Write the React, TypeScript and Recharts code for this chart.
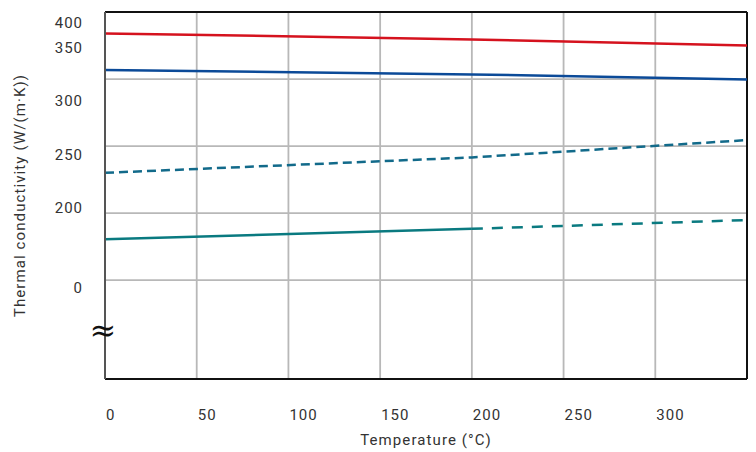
import React from 'react';
import {
  LineChart,
  Line,
  XAxis,
  YAxis,
  CartesianGrid,
  ReferenceLine,
  ReferenceDot,
  Label,
} from 'recharts';

// Temperatures (°C) at which the curves were read
const temperatureC = [0, 200, 350];
// Thermal conductivity readings (plot units of the broken axis)
const redSeries = [363.0, 357.4, 351.8];
const blueSeries = [328.7, 324.7, 320.0];
const dashedBlueSeries = [232.7, 247.1, 263.3];
const tealSolidSeries: (number | null)[] = [170.7, 180.4, null];
const tealDashedSeries: (number | null)[] = [null, 180.4, 188.5];

const xTicks = [0, 50, 100, 150, 200, 250, 300];
const xDomain = [0, 350];
const yTickValues = [373, 350, 300, 250, 200, 125.5];
const yTickLabels = ['400', '350', '300', '250', '200', '0'];
const yGridValues = [320.3, 257.7, 195.0, 132.4];
const yDomain = [40, 383];
const breakMarkValue = 86.2;

const data = temperatureC.map((t, i) => ({
  t,
  red: redSeries[i],
  blue: blueSeries[i],
  dashedBlue: dashedBlueSeries[i],
  tealSolid: tealSolidSeries[i],
  tealDashed: tealDashedSeries[i],
}));

const FONT = 'Roboto, "Liberation Sans", Arial, sans-serif';
const TEXT = '#333';

export default function App() {
  return (
    <div style={{ position: 'absolute', left: 0, top: 0 }}>
      <LineChart
        width={756}
        height={452}
        data={data}
        margin={{ top: 12, right: 9, bottom: 0, left: 0 }}
      >
        <CartesianGrid horizontal={false} stroke="#b8b8b8" strokeWidth={1.8} />
        {yGridValues.map((v) => (
          <ReferenceLine key={v} y={v} stroke="#b8b8b8" strokeWidth={1.8} />
        ))}
        <ReferenceLine y={yDomain[1]} stroke="#111" strokeWidth={2} />
        <ReferenceLine x={xDomain[1]} stroke="#111" strokeWidth={2} />
        <XAxis
          dataKey="t"
          type="number"
          domain={xDomain}
          ticks={xTicks}
          height={73}
          tickSize={0}
          tickMargin={30}
          axisLine={{ stroke: '#111', strokeWidth: 2 }}
          tick={{
            fill: TEXT,
            fontSize: 15,
            fontFamily: FONT,
            letterSpacing: 1,
            textAnchor: 'start',
            dx: 1,
          }}
          allowDataOverflow
        >
          <Label
            value="Temperature (°C)"
            position="insideBottom"
            offset={7}
            fill={TEXT}
            fontSize={15}
            fontFamily={FONT}
            letterSpacing={1.1}
          />
        </XAxis>
        <YAxis
          type="number"
          domain={yDomain}
          ticks={yTickValues}
          interval={0}
          width={105}
          tickSize={0}
          tickMargin={22}
          axisLine={{ stroke: '#555', strokeWidth: 2 }}
          tick={{ fill: TEXT, fontSize: 15, fontFamily: FONT, letterSpacing: 1 }}
          tickFormatter={(v: number) => {
            const i = yTickValues.indexOf(v);
            return i >= 0 ? yTickLabels[i] : '';
          }}
          allowDataOverflow
        >
          <Label
            content={(props: any) => {
              const vb = props.viewBox || { x: 0, y: 12, width: 105, height: 367 };
              const cx = vb.x + 25;
              const cy = vb.y + vb.height / 2;
              return (
                <text
                  x={cx}
                  y={cy}
                  transform={`rotate(-90 ${cx} ${cy})`}
                  textAnchor="middle"
                  fill={TEXT}
                  fontSize={15}
                  fontFamily={FONT}
                  letterSpacing={1.1}
                >
                  Thermal conductivity (W/(m·K))
                </text>
              );
            }}
          />
        </YAxis>
        <Line
          dataKey="red"
          stroke="#d5121e"
          strokeWidth={2.5}
          dot={false}
          isAnimationActive={false}
        />
        <Line
          dataKey="blue"
          stroke="#0b4a98"
          strokeWidth={2.5}
          dot={false}
          isAnimationActive={false}
        />
        <Line
          dataKey="dashedBlue"
          stroke="#126a8a"
          strokeWidth={2.5}
          strokeDasharray="9 5"
          dot={false}
          isAnimationActive={false}
        />
        <Line
          dataKey="tealSolid"
          stroke="#0a7a80"
          strokeWidth={2.5}
          dot={false}
          isAnimationActive={false}
        />
        <Line
          dataKey="tealDashed"
          stroke="#0a7a80"
          strokeWidth={2.5}
          strokeDasharray="11 9"
          dot={false}
          isAnimationActive={false}
        />
        <ReferenceDot
          x={0}
          y={breakMarkValue}
          ifOverflow="visible"
          shape={(p: any) => (
            <text
              x={p.cx - 2}
              y={p.cy}
              textAnchor="middle"
              dominantBaseline="central"
              fontSize={32}
              fill="#111"
              fontFamily='"DejaVu Serif", "Liberation Serif", serif'
            >
              ≈
            </text>
          )}
        />
      </LineChart>
    </div>
  );
}
